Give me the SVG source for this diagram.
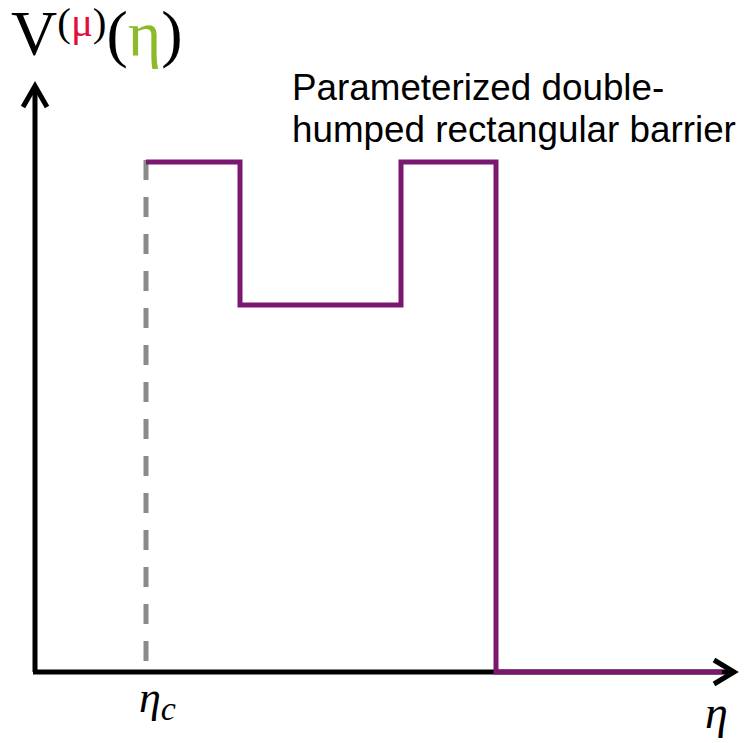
<svg xmlns="http://www.w3.org/2000/svg" width="747" height="743" viewBox="0 0 747 743">
<style>
.axis{stroke:#000;stroke-width:5;fill:none;stroke-linecap:butt}
.head{stroke:#000;stroke-width:5;fill:none;stroke-linejoin:miter}
.barrier{stroke:#7b176f;stroke-width:5;fill:none;stroke-linejoin:miter}
.dash{stroke:#8a8a8a;stroke-width:5;fill:none;stroke-dasharray:20 17}
.lbl{font-family:"Liberation Sans",Arial,sans-serif;font-size:36.8px;fill:#000}
.math{font-family:"Liberation Serif","Times New Roman",serif;fill:#000}
</style>
<rect width="747" height="743" fill="#fff"/>
<g id="connectors">
<path class="dash" d="M146,160 V672"/>
<path class="axis" d="M35,672 V88"/>
<path class="axis" d="M33,672 H732"/>
<path class="head" d="M23,107 L35,86 L47,107"/>
<path class="head" d="M714,660 L734,672 L714,684"/>
<path class="barrier" d="M146,162 H240 V305 H401 V162 H496 V672 H722"/>
</g>
<g id="y-label">
<text class="math" x="11" y="55" font-size="64">V<tspan font-size="41" dy="-19">(<tspan fill="#e0103a">μ</tspan>)</tspan><tspan dy="19">(<tspan fill="#8db92b">η</tspan>)</tspan></text>
</g>
<g id="barrier-label">
<text class="lbl" x="292" y="100">Parameterized double-</text>
<text class="lbl" x="292" y="142">humped rectangular barrier</text>
</g>
<g id="eta-c">
<text class="math" x="139" y="712" font-size="44" font-style="italic">η<tspan font-size="34" dy="8">c</tspan></text>
</g>
<g id="eta">
<text class="math" x="705" y="728" font-size="46" font-style="italic">η</text>
</g>
</svg>
